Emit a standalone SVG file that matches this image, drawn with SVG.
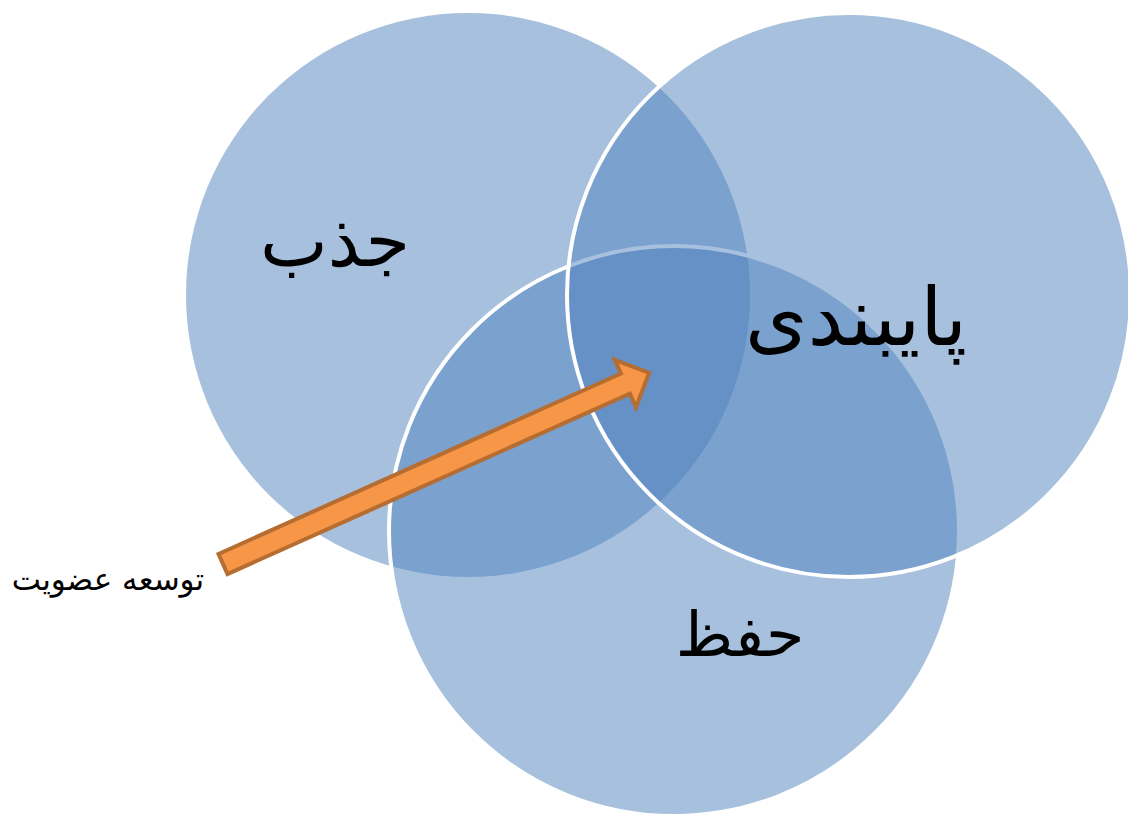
<svg xmlns="http://www.w3.org/2000/svg" width="1128" height="816" viewBox="0 0 1128 816">
<style>
.c{fill:#4F81BD;fill-opacity:0.5}
.s{stroke:#FFFFFF;stroke-width:4}
.lbl{font-family:"DejaVu Sans",sans-serif;fill:#000;text-anchor:middle;direction:rtl}
</style>
<rect width="1128" height="816" fill="#FFFFFF"/>
<g id="node-jazb">
<circle class="c" cx="468" cy="295" r="282"/>
<text class="lbl" x="335" y="266" font-size="72">جذب</text>
</g>
<g id="node-hefz">
<circle class="c s" cx="674" cy="531" r="285"/>
<text class="lbl" x="740" y="656" font-size="62">حفظ</text>
</g>
<g id="node-paybandi">
<circle class="c s" cx="849" cy="295" r="282"/>
<text class="lbl" x="856" y="345" font-size="80">پایبندی</text>
</g>
<g id="connectors">
<polygon transform="translate(223,564) rotate(-24.15)" points="0,-11 441,-11 441,-26 467,0 441,26 441,11 0,11" fill="#F79646" stroke="#B66D31" stroke-width="4" stroke-linejoin="miter"/>
</g>
<g id="label-tosee">
<text class="lbl" x="108" y="590" font-size="31">توسعه عضویت</text>
</g>
</svg>
